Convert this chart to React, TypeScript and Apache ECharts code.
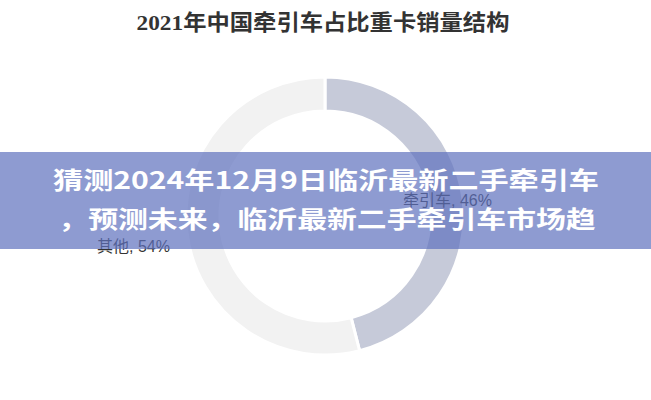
import React, { useEffect, useRef } from "react";
import * as echarts from "echarts";

const chartTitle = "2021年中国牵引车占比重卡销量结构";
const categories = ["牵引车", "其他"];
const shares = [46, 54];
const sliceColors = ["#c6cad9", "#f2f2f2"];
const overlayLines = [
  "猜测2024年12月9日临沂最新二手牵引车",
  "，预测未来，临沂最新二手牵引车市场趋",
];

const labelSpots = [
  { x: 403, y: 200 },
  { x: 97, y: 246 },
];

export default function App() {
  const ref = useRef<HTMLDivElement>(null);
  useEffect(() => {
    if (!ref.current) return;
    const chart = echarts.init(ref.current, undefined, { renderer: "svg" });
    const cjk = "Noto Sans CJK SC, Noto Sans, sans-serif";
    chart.setOption({
      animation: false,
      backgroundColor: "#ffffff",
      series: [
        {
          type: "pie",
          center: [325, 216],
          radius: [105, 139],
          startAngle: 90,
          clockwise: true,
          silent: true,
          itemStyle: { borderColor: "#ffffff", borderWidth: 3 },
          label: {
            show: true,
            formatter: "{b}, {d}%",
            color: "#333333",
            fontSize: 16,
            fontFamily: "Liberation Sans, Noto Sans CJK SC, sans-serif",
          },
          labelLine: { show: false },
          labelLayout: (p: any) => {
            const s = labelSpots[p.dataIndex];
            return { x: s.x, y: s.y, align: "left", verticalAlign: "middle" };
          },
          data: categories.map((c, i) => ({
            name: c,
            value: shares[i],
            itemStyle: { color: sliceColors[i] },
          })),
        },
      ],
      graphic: [
        {
          type: "text",
          x: 323,
          y: 23,
          scaleX: 1.06,
          z: 10,
          style: {
            text: chartTitle,
            align: "center",
            verticalAlign: "middle",
            fill: "#333333",
            fontSize: 22,
            fontWeight: "bold",
            fontFamily: "Liberation Serif, Noto Sans CJK SC, serif",
          },
        },
        {
          type: "rect",
          z: 100,
          shape: { x: 0, y: 152, width: 651, height: 97 },
          style: { fill: "rgba(94,112,189,0.7)" },
        },
        {
          type: "text",
          x: 326,
          y: 178,
          scaleX: 1.255,
          z: 101,
          style: {
            text: overlayLines[0],
            align: "center",
            verticalAlign: "middle",
            fill: "#ffffff",
            fontSize: 24,
            fontWeight: "bold",
            fontFamily: cjk,
          },
        },
        {
          type: "text",
          x: 327,
          y: 218,
          scaleX: 1.245,
          z: 101,
          style: {
            text: overlayLines[1],
            align: "center",
            verticalAlign: "middle",
            fill: "#ffffff",
            fontSize: 24,
            fontWeight: "bold",
            fontFamily: cjk,
          },
        },
      ],
    });
    return () => chart.dispose();
  }, []);
  return (
    <div
      ref={ref}
      style={{ position: "absolute", left: 0, top: 0, width: 651, height: 400 }}
    />
  );
}
